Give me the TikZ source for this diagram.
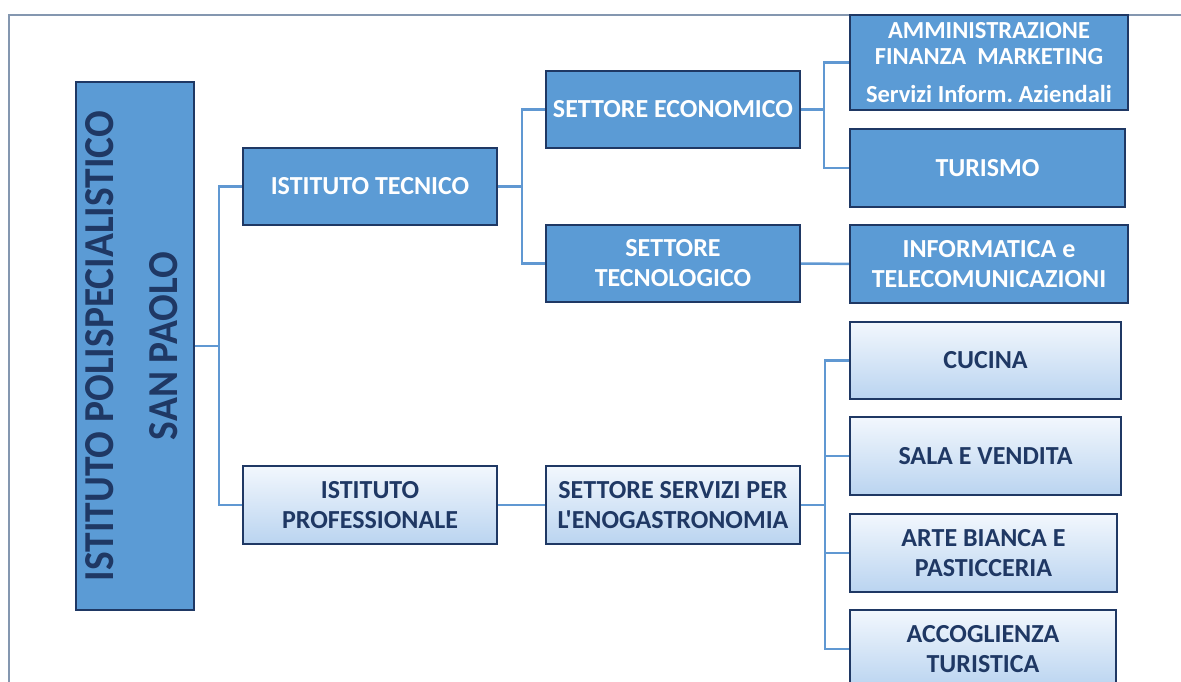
\documentclass[tikz,border=0pt]{standalone}
\usepackage{fontspec}
\setmainfont{Carlito}[Ligatures=TeXOff]
\usetikzlibrary{backgrounds}
\definecolor{boxblue}{RGB}{91,155,213}
\definecolor{navy}{RGB}{31,56,100}
\definecolor{linkblue}{RGB}{96,152,210}
\definecolor{framegray}{RGB}{132,151,176}
\definecolor{paleblue}{RGB}{242,247,253}
\definecolor{lightblue}{RGB}{186,212,240}

\begin{document}
\frenchspacing
\begin{tikzpicture}[x=1pt, y=-1pt,
  box/.style={draw=navy, line width=2.2pt, rectangle, inner sep=0pt, align=center,
              font=\fontsize{26}{30}\selectfont\bfseries},
  darkbox/.style={box, fill=boxblue, text=white},
  lightbox/.style={box, top color=paleblue, bottom color=lightblue, text=navy},
  link/.style={draw=linkblue, line width=2.5pt}]
  \useasboundingbox (0,0) rectangle (1181,682);

  % main school box
  \node[darkbox, line width=1.6pt, text=navy, minimum width=118pt, minimum height=528pt] (scuola) at (135,346)
    {\rotatebox{90}{\scalebox{1}[1.08]{\fontsize{39.5}{47}\selectfont
     \begin{tabular}{@{}c@{}}ISTITUTO POLISPECIALISTICO\\[12pt] SAN PAOLO\end{tabular}}}};

  % institutes
  \node[darkbox, minimum width=254pt, minimum height=77pt] (tecnico) at (370,186.5) {ISTITUTO TECNICO};
  \node[lightbox, minimum width=254pt, minimum height=78pt] (prof) at (370,505) {ISTITUTO\\PROFESSIONALE};

  % sectors
  \node[darkbox, minimum width=254pt, minimum height=77pt] (eco) at (673,109.5) {SETTORE ECONOMICO};
  \node[darkbox, minimum width=254pt, minimum height=77pt] (tecno) at (673,263.5) {SETTORE\\TECNOLOGICO};
  \node[lightbox, minimum width=254pt, minimum height=78pt] (servizi) at (673,505) {SETTORE SERVIZI PER\\L'ENOGASTRONOMIA};

  % courses
  \node[darkbox, minimum width=278pt, minimum height=95pt, font=\fontsize{24.5}{26}\selectfont\bfseries] (afm) at (989,62.5)
    {AMMINISTRAZIONE\\FINANZA\ \ MARKETING\\[12pt]Servizi Inform. Aziendali};
  \node[darkbox, minimum width=275pt, minimum height=78pt] (tur) at (987.5,168) {TURISMO};
  \node[darkbox, minimum width=278pt, minimum height=78pt] (inf) at (989,264) {INFORMATICA e\\TELECOMUNICAZIONI};
  \node[lightbox, minimum width=271pt, minimum height=77pt] (cucina) at (985.5,360.5) {CUCINA};
  \node[lightbox, minimum width=271pt, minimum height=78pt] (sala) at (985.5,456) {SALA E VENDITA};
  \node[lightbox, minimum width=267pt, minimum height=78pt] (arte) at (983.5,553) {ARTE BIANCA E\\PASTICCERIA};
  \node[lightbox, minimum width=266pt, minimum height=78pt] (acc) at (983,649) {ACCOGLIENZA\\TURISTICA};

  \begin{scope}[on background layer]
    \draw[framegray, line width=2pt] (9,700) -- (9,15) -- (1190,15);
    % connectors
    \draw[link] (scuola.east) -- ++(24,0) coordinate (j0);
    \draw[link] (tecnico.west) -| (j0) |- (prof.west);
    \draw[link] (tecnico.east) -- ++(24,0) coordinate (j1);
    \draw[link] (eco.west) -| (j1) |- (tecno.west);
    \draw[link] (eco.east) -- ++(23,0) coordinate (j2);
    \draw[link] (afm.west) -| (j2) |- (tur.west);
    \draw[link] (tecno) -- (inf);
    \draw[link] (prof) -- (servizi);
    \draw[link] (servizi.east) -- ++(24,0) coordinate (j3);
    \draw[link] (cucina.west) -| (j3) |- (acc.west);
    \draw[link] (sala.west) -- (sala.west -| j3);
    \draw[link] (arte.west) -- (arte.west -| j3);
  \end{scope}
\end{tikzpicture}
\end{document}
